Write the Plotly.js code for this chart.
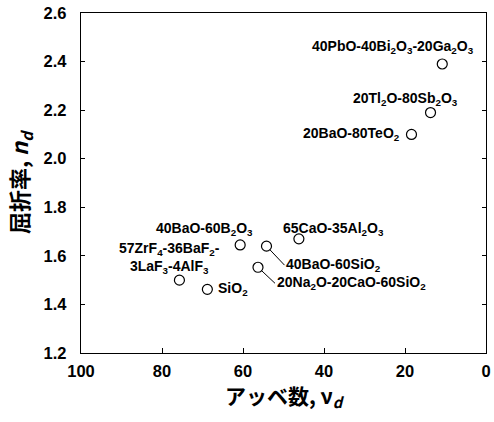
<!DOCTYPE html>
<html>
<head>
<meta charset="utf-8">
<script src="https://cdn.plot.ly/plotly-3.0.1.min.js"></script>
<style>html,body{margin:0;padding:0;background:#fff;}#chart{width:494px;height:422px;}</style>
</head>
<body>
<div id="chart"></div>
<script>
// Data
const glasses = [
  "40PbO-40Bi<sub>2</sub>O<sub>3</sub>-20Ga<sub>2</sub>O<sub>3</sub>",
  "20Tl<sub>2</sub>O-80Sb<sub>2</sub>O<sub>3</sub>",
  "20BaO-80TeO<sub>2</sub>",
  "65CaO-35Al<sub>2</sub>O<sub>3</sub>",
  "40BaO-60B<sub>2</sub>O<sub>3</sub>",
  "40BaO-60SiO<sub>2</sub>",
  "20Na<sub>2</sub>O-20CaO-60SiO<sub>2</sub>",
  "57ZrF<sub>4</sub>-36BaF<sub>2</sub>-<br>3LaF<sub>3</sub>-4AlF<sub>3</sub>",
  "SiO<sub>2</sub>"
];
const abbeNumber = [10.8, 13.7, 18.4, 46.2, 60.7, 54.2, 56.3, 75.7, 68.8];
const refractiveIndex = [2.39, 2.19, 2.10, 1.67, 1.645, 1.64, 1.553, 1.50, 1.462];
const yTicks = [1.2, 1.4, 1.6, 1.8, 2.0, 2.2, 2.4, 2.6];
const yTickText = ["1.2", "1.4", "1.6", "1.8", "2.0", "2.2", "2.4", "2.6"];
const xTicks = [100, 80, 60, 40, 20, 0];

// Label placement (layout only)
const labelStyle = [
  {xanchor: "center", xshift: -49, yshift: 17},
  {xanchor: "center", xshift: -25, yshift: 14},
  {xanchor: "right", xshift: -9, yshift: 0},
  {xanchor: "center", xshift: 35, yshift: 10},
  {xanchor: "center", xshift: -36, yshift: 16},
  {leader: true, ax: 18, ay: 19},
  {leader: true, ax: 17, ay: 16},
  {xanchor: "center", xshift: -10, yshift: 22},
  {xanchor: "left", xshift: 9, yshift: 0}
];

const FONT = "Liberation Sans, Arial, Helvetica, Noto Sans CJK JP, sans-serif";
const labelFont = {family: FONT, size: 14, color: "#000", weight: "bold"};

const annotations = glasses.map((t, i) => {
  const s = labelStyle[i];
  if (s.leader) {
    return {x: abbeNumber[i], y: refractiveIndex[i], xref: "x", yref: "y", text: t,
      showarrow: true, arrowhead: 0, arrowwidth: 1, arrowcolor: "#000",
      ax: s.ax, ay: s.ay, xanchor: "left", yanchor: "middle", standoff: 5,
      font: labelFont, borderpad: 1};
  }
  return {x: abbeNumber[i], y: refractiveIndex[i], xref: "x", yref: "y", text: t,
    showarrow: false, xanchor: s.xanchor, yanchor: "middle", xshift: s.xshift, yshift: s.yshift,
    align: "center", font: labelFont};
});

const trace = {
  x: abbeNumber, y: refractiveIndex, type: "scatter", mode: "markers",
  marker: {symbol: "circle-open", size: 10, color: "#000", line: {width: 1.2, color: "#000"}},
  hoverinfo: "skip", showlegend: false
};

const layout = {
  width: 494, height: 422,
  margin: {l: 81, r: 8, t: 13, b: 69},
  paper_bgcolor: "#fff", plot_bgcolor: "#fff",
  showlegend: false,
  font: {family: FONT, color: "#000"},
  xaxis: {
    range: [100, 0], tickvals: xTicks, ticks: "inside", ticklen: 5, tickwidth: 1, tickcolor: "#000",
    showline: true, mirror: true, linewidth: 1.3, linecolor: "#000", showgrid: false, zeroline: false,
    tickfont: {family: FONT, size: 16.5, weight: "bold", color: "#000"},
    ticklabelstandoff: 3,
    title: {text: "アッベ数, ν<sub><i>d</i></sub>", standoff: 8,
      font: {family: "Noto Sans CJK JP, Liberation Sans, sans-serif", size: 21, weight: "bold", color: "#000"}},
    automargin: false
  },
  yaxis: {
    range: [1.2, 2.6], tickvals: yTicks, ticktext: yTickText, ticks: "inside", ticklen: 4, tickwidth: 1, tickcolor: "#000",
    showline: true, mirror: "ticks", linewidth: 1.3, linecolor: "#000", showgrid: false, zeroline: false,
    tickfont: {family: FONT, size: 16.5, weight: "bold", color: "#000"},
    ticklabelstandoff: 10,
    title: {text: "屈折率, <i>n</i><sub><i>d</i></sub>", standoff: 8,
      font: {family: "Noto Sans CJK JP, Liberation Sans, sans-serif", size: 22, weight: "bold", color: "#000"}},
    automargin: false
  },
  annotations: annotations
};

Plotly.newPlot("chart", [trace], layout, {staticPlot: true, displayModeBar: false});
</script>
</body>
</html>
